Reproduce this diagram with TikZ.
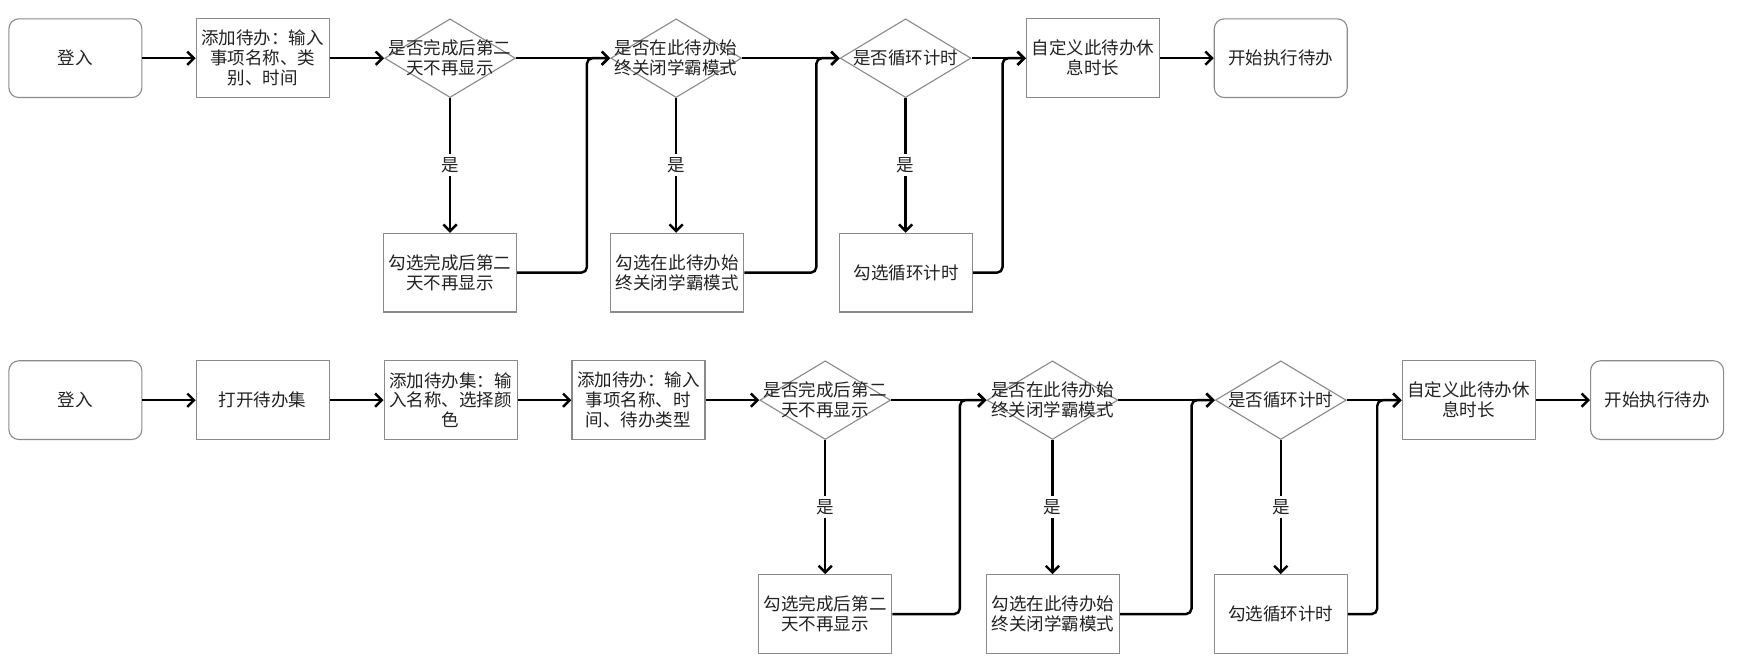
\documentclass[tikz,border=0pt]{standalone}
\usepackage{fontspec}
\setmainfont{Noto Sans CJK SC}
\usetikzlibrary{shapes.geometric,arrows.meta}
\definecolor{bord}{HTML}{8A8A8A}
\definecolor{txtc}{HTML}{222222}
\tikzset{
  box/.style={draw=bord, line width=1pt, fill=white, minimum width=120pt, minimum height=71pt, inner sep=0pt, align=center, text=txtc, font=\fontsize{15.8}{18}\selectfont},
  rbox/.style={box, rounded corners=9pt},
  dia/.style={diamond, draw=bord, line width=1pt, minimum width=118pt, minimum height=71pt, inner sep=0pt},
  dtxt/.style={align=center, text=txtc, inner sep=0pt, font=\fontsize{15.8}{18}\selectfont},
  conn/.style={line width=2.2pt, black, -{Straight Barb[length=6pt,width=12pt]}},
  yes/.style={fill=white, text=txtc, inner sep=3pt, font=\fontsize{15.8}{18}\selectfont},
}
\begin{document}
\begin{tikzpicture}[x=1pt,y=-1pt]
\useasboundingbox (0,0) rectangle (1568,595);
% ---------- Row 1 ----------
\node[rbox] (l1) at (68,52.5) {登入};
\node[box] (a1) at (237,52.5) {添加待办：输入\\事项名称、类\\别、时间};
\node[dia] (d1) at (406,52.5) {};
\node[dtxt] at (d1) {是否完成后第二\\天不再显示};
\node[box] (b1) at (406,246) {勾选完成后第二\\天不再显示};
\node[dia] (d2) at (610,52.5) {};
\node[dtxt] at (d2) {是否在此待办始\\终关闭学霸模式};
\node[box] (b2) at (611,246) {勾选在此待办始\\终关闭学霸模式};
\node[dia] (d3) at (817,52.5) {};
\node[dtxt] at (d3) {是否循环计时};
\node[box] (b3) at (817.5,246) {勾选循环计时};
\node[box] (c1) at (986,52.5) {自定义此待办休\\息时长};
\node[rbox] (s1) at (1155.5,52.5) {开始执行待办};

\draw[conn] (l1) -- (a1);
\draw[conn] (a1) -- (d1);
\draw[conn] (d1) -- (d2);
\draw[conn] (d2) -- (d3);
\draw[conn] (d3) -- (c1);
\draw[conn] (c1) -- (s1);
\draw[conn] (d1) -- node[yes]{是} (b1);
\draw[conn] (d2.south) -- node[yes]{是} (d2.south |- b2.north);
\draw[conn] (d3) -- node[yes]{是} (d3 |- b3.north);
\draw[conn, rounded corners=5pt] (b1.east) -| ([xshift=-21pt]d2.west) -- (d2.west);
\draw[conn, rounded corners=5pt] (b2.east) -| ([xshift=-21pt]d3.west) -- (d3.west);
\draw[conn, rounded corners=5pt] (b3.east) -| ([xshift=-21pt]c1.west) -- (c1.west);

% ---------- Row 2 ----------
\node[rbox] (l2) at (68,361) {登入};
\node[box] (o2) at (237,361) {打开待办集};
\node[box] (e2) at (406.5,361) {添加待办集：输\\入名称、选择颜\\色};
\node[box] (a2) at (576,361) {添加待办：输入\\事项名称、时\\间、待办类型};
\node[dia] (d4) at (744.5,361) {};
\node[dtxt] at (d4) {是否完成后第二\\天不再显示};
\node[box] (b4) at (744.5,554) {勾选完成后第二\\天不再显示};
\node[dia] (d5) at (949.5,361) {};
\node[dtxt] at (d5) {是否在此待办始\\终关闭学霸模式};
\node[box] (b5) at (950,554) {勾选在此待办始\\终关闭学霸模式};
\node[dia] (d6) at (1155.5,361) {};
\node[dtxt] at (d6) {是否循环计时};
\node[box] (b6) at (1155.5,554) {勾选循环计时};
\node[box] (c2) at (1325,361) {自定义此待办休\\息时长};
\node[rbox] (s2) at (1495,361) {开始执行待办};

\draw[conn] (l2) -- (o2);
\draw[conn] (o2) -- (e2);
\draw[conn] (e2) -- (a2);
\draw[conn] (a2) -- (d4);
\draw[conn] (d4) -- (d5);
\draw[conn] (d5) -- (d6);
\draw[conn] (d6) -- (c2);
\draw[conn] (c2) -- (s2);
\draw[conn] (d4) -- node[yes]{是} (b4);
\draw[conn] (d5.south) -- node[yes]{是} (d5.south |- b5.north);
\draw[conn] (d6) -- node[yes]{是} (b6);
\draw[conn, rounded corners=5pt] (b4.east) -| ([xshift=-24pt]d5.west) -- (d5.west);
\draw[conn, rounded corners=5pt] (b5.east) -| ([xshift=-21pt]d6.west) -- (d6.west);
\draw[conn, rounded corners=5pt] (b6.east) -| ([xshift=-22pt]c2.west) -- (c2.west);
\end{tikzpicture}
\end{document}
